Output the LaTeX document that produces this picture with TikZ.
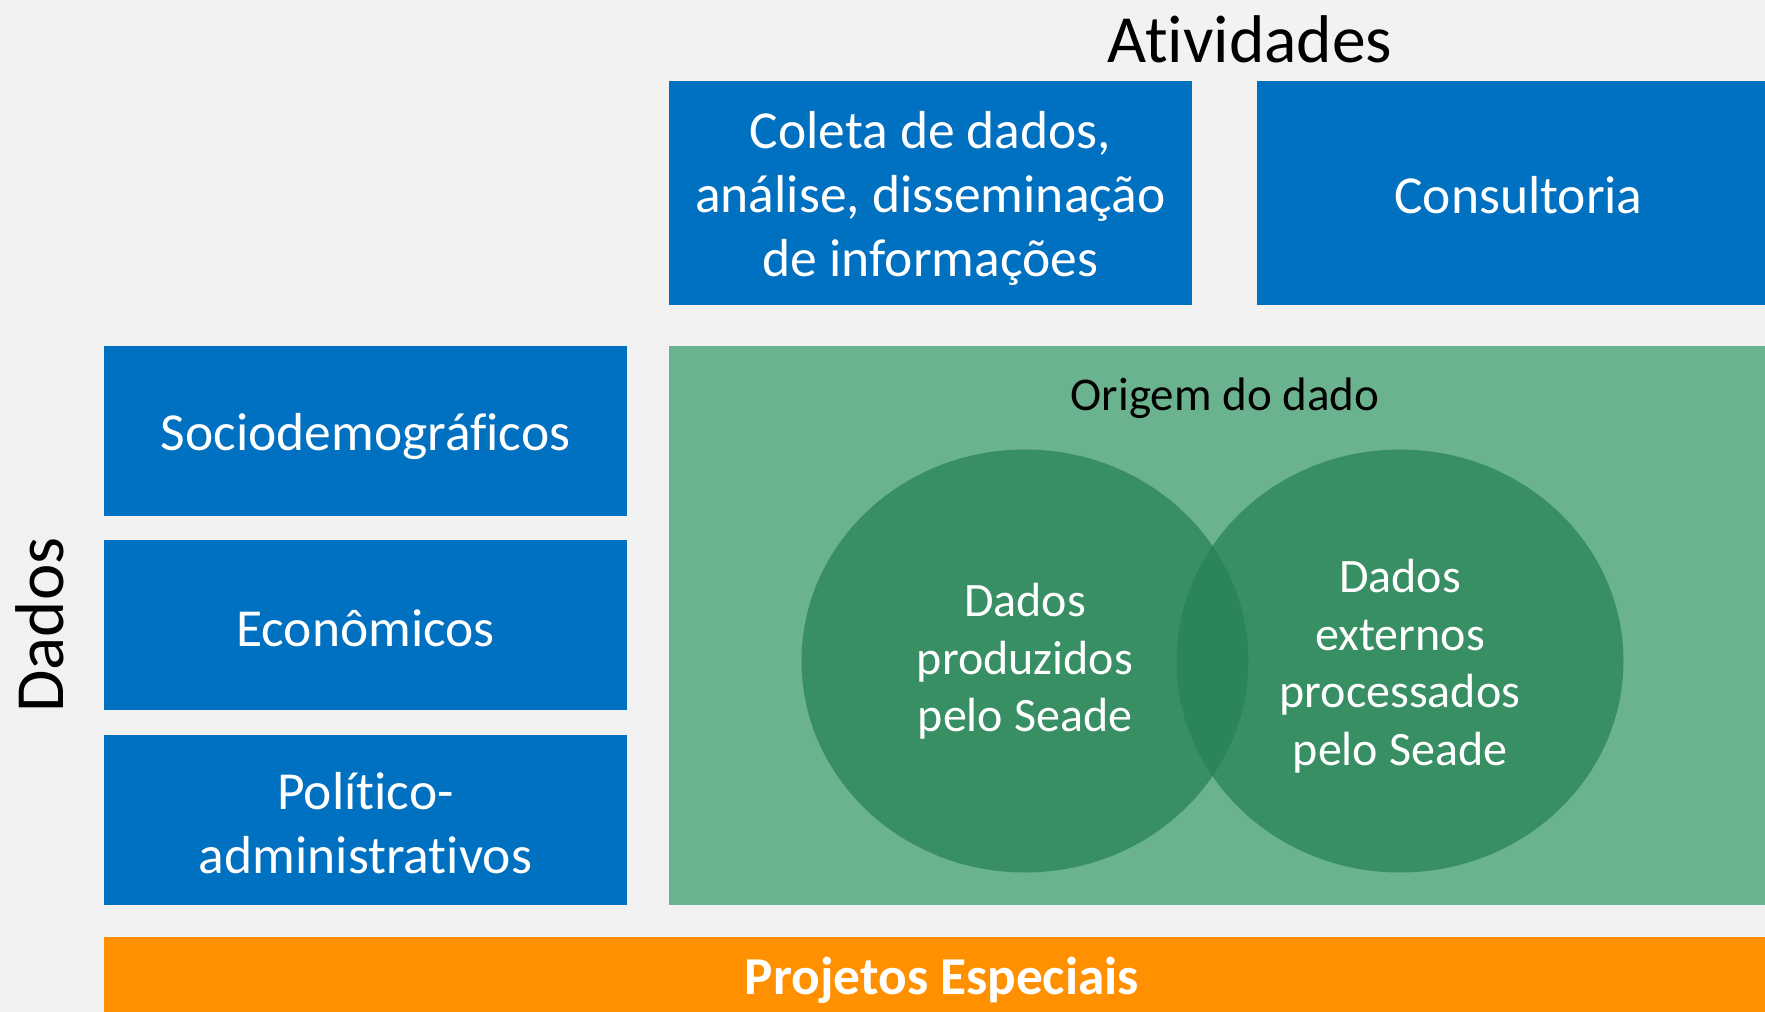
\documentclass[tikz,border=0pt]{standalone}
\usepackage{fontspec}
\setmainfont{Carlito}[Ligatures=NoCommon]
\definecolor{seadeblue}{RGB}{0,112,192}
\definecolor{origemgreen}{RGB}{107,179,142}
\definecolor{vennGreen}{RGB}{37,129,83}
\definecolor{projorange}{RGB}{255,145,0}
\definecolor{slidegray}{RGB}{242,242,242}
\newcommand{\boxfont}{\fontsize{53.5}{64}\selectfont}
\newcommand{\vennfont}{\fontsize{48}{57.5}\selectfont}

\begin{document}
\begin{tikzpicture}[x=1pt,y=-1pt,
  boxtext/.style={text=white,inner sep=0pt,align=center,font=\boxfont},
  venntext/.style={text=white,inner sep=0pt,align=center,font=\vennfont},
  titletext/.style={anchor=base,inner sep=0pt,font=\fontsize{#1}{80}\selectfont}]
\useasboundingbox (0,0) rectangle (1765,1012);
\clip (0,0) rectangle (1765,1012);
\fill[slidegray] (0,0) rectangle (1765,1012);
%%%%%%%%%%%%%%%%%%%% atividades %%%%%%%%%%%%%%%%%%%%
\node[titletext=67.5] (ativ) at (1250,62) {Atividades};
\fill[seadeblue] (669,81) rectangle ++(523,224);
\fill[seadeblue] (1257,81) rectangle ++(523,224);
\node[boxtext] (coleta) at (930.5,198.5) {Coleta de dados,\\ análise, disseminação\\ de informações};
\node[boxtext] (consult) at (1518.5,195) {Consultoria};
%%%%%%%%%%%%%%%%%%%% dados %%%%%%%%%%%%%%%%%%%%
\node[titletext=69,rotate=90] (dados) at (63,625) {Dados};
\fill[seadeblue] (104,346) rectangle ++(523,170);
\fill[seadeblue] (104,540) rectangle ++(523,170);
\fill[seadeblue] (104,735) rectangle ++(523,170);
\node[boxtext] (socio) at (365.5,436.5) {Sociodemográficos};
\node[boxtext] (econ) at (365.5,628) {Econômicos};
\node[boxtext] (polit) at (365.5,823.5) {Político-\\ administrativos};
%%%%%%%%%%%%%%%%%%%% origem do dado %%%%%%%%%%%%%%%%%%%%
\fill[origemgreen] (669,346) rectangle ++(1111,559);
\node[anchor=base,inner sep=0pt,font=\fontsize{47}{56}\selectfont] (origem) at (1225,410) {Origem do dado};
\fill[vennGreen,fill opacity=.7] (1025,661) ellipse [x radius=223.5,y radius=211.5];
\fill[vennGreen,fill opacity=.7] (1400,661) ellipse [x radius=223.5,y radius=211.5];
\node[venntext] (produz) at (1025,661.5) {Dados\\ produzidos\\ pelo Seade};
\node[venntext] (extern) at (1400,666) {Dados\\ externos\\ processados\\ pelo Seade};
%%%%%%%%%%%%%%%%%%%% projetos especiais %%%%%%%%%%%%%%%%%%%%
\fill[projorange] (104,937) rectangle ++(1676,80);
\node[boxtext,font=\fontsize{53.3}{64}\selectfont\bfseries] (projetos) at (942,980) {Projetos Especiais};
\end{tikzpicture}
\end{document}
